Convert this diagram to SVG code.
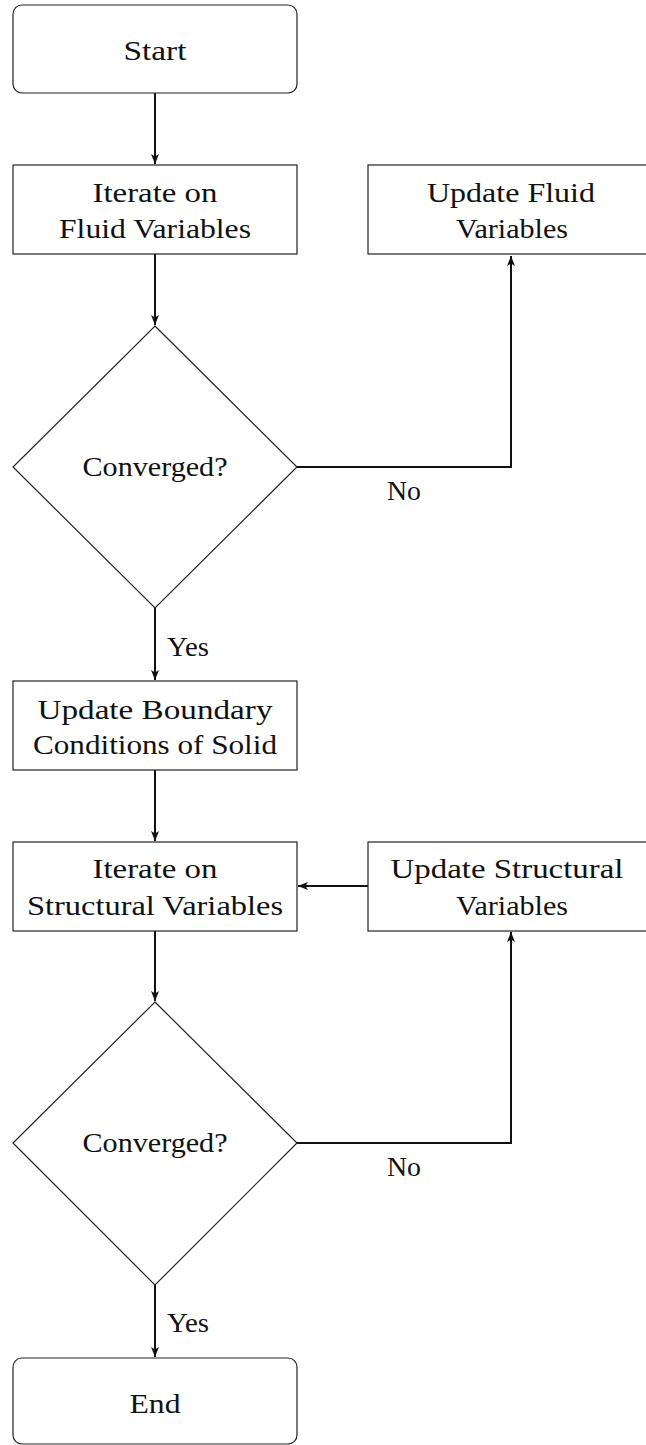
<svg xmlns="http://www.w3.org/2000/svg" width="646" height="1445" viewBox="0 0 646 1445">
<defs>
<style>
.box{fill:#fff;stroke:#222;stroke-width:1.2}
.t{font-family:"Liberation Serif","Times New Roman",serif;font-size:28px;fill:#111;text-anchor:middle}
.c{fill:none;stroke:#111;stroke-width:2}
</style>
<marker id="ah" viewBox="0 0 10 8" refX="10" refY="4" markerWidth="10" markerHeight="8" markerUnits="userSpaceOnUse" orient="auto">
<path d="M0,0 L10,4 L0,8 L2.5,4 Z" fill="#111"/>
</marker>
</defs>
<rect width="646" height="1445" fill="#fff"/>
<g id="connectors">
<line class="c" x1="155" y1="93" x2="155" y2="164" marker-end="url(#ah)"/>
<line class="c" x1="155" y1="254" x2="155" y2="325" marker-end="url(#ah)"/>
<polyline class="c" points="297,467 511,467 511,256" marker-end="url(#ah)"/>
<line class="c" x1="155" y1="608" x2="155" y2="680" marker-end="url(#ah)"/>
<line class="c" x1="155" y1="770" x2="155" y2="841" marker-end="url(#ah)"/>
<line class="c" x1="368" y1="886" x2="298" y2="886" marker-end="url(#ah)"/>
<line class="c" x1="155" y1="931" x2="155" y2="1001" marker-end="url(#ah)"/>
<polyline class="c" points="297,1143 511,1143 511,932" marker-end="url(#ah)"/>
<line class="c" x1="155" y1="1285" x2="155" y2="1357" marker-end="url(#ah)"/>
<text class="t" x="404" y="500" textLength="34" lengthAdjust="spacingAndGlyphs">No</text>
<text class="t" x="188" y="656" textLength="42" lengthAdjust="spacingAndGlyphs">Yes</text>
<text class="t" x="404" y="1176" textLength="34" lengthAdjust="spacingAndGlyphs">No</text>
<text class="t" x="188" y="1332" textLength="42" lengthAdjust="spacingAndGlyphs">Yes</text>
</g>
<g id="start">
<rect class="box" x="13" y="5" width="284" height="88" rx="9"/>
<text class="t" x="155" y="60" textLength="63" lengthAdjust="spacingAndGlyphs">Start</text>
</g>
<g id="iterate-fluid">
<rect class="box" x="13" y="165" width="284" height="89"/>
<text class="t" x="155" y="202" textLength="125" lengthAdjust="spacingAndGlyphs">Iterate on</text>
<text class="t" x="155" y="238" textLength="192" lengthAdjust="spacingAndGlyphs">Fluid Variables</text>
</g>
<g id="update-fluid">
<rect class="box" x="368" y="165" width="290" height="89"/>
<text class="t" x="511" y="202" textLength="168" lengthAdjust="spacingAndGlyphs">Update Fluid</text>
<text class="t" x="512" y="238" textLength="112" lengthAdjust="spacingAndGlyphs">Variables</text>
</g>
<g id="converged-fluid">
<polygon class="box" points="155,326 297,467 155,608 13,467"/>
<text class="t" x="155" y="476" textLength="145" lengthAdjust="spacingAndGlyphs">Converged?</text>
</g>
<g id="update-boundary">
<rect class="box" x="13" y="681" width="284" height="89"/>
<text class="t" x="155" y="719" textLength="235" lengthAdjust="spacingAndGlyphs">Update Boundary</text>
<text class="t" x="155" y="754" textLength="244" lengthAdjust="spacingAndGlyphs">Conditions of Solid</text>
</g>
<g id="iterate-structural">
<rect class="box" x="13" y="842" width="284" height="89"/>
<text class="t" x="155" y="878" textLength="125" lengthAdjust="spacingAndGlyphs">Iterate on</text>
<text class="t" x="155" y="915" textLength="256" lengthAdjust="spacingAndGlyphs">Structural Variables</text>
</g>
<g id="update-structural">
<rect class="box" x="368" y="842" width="290" height="89"/>
<text class="t" x="507" y="878" textLength="233" lengthAdjust="spacingAndGlyphs">Update Structural</text>
<text class="t" x="512" y="915" textLength="112" lengthAdjust="spacingAndGlyphs">Variables</text>
</g>
<g id="converged-structural">
<polygon class="box" points="155,1002 297,1143 155,1285 13,1143"/>
<text class="t" x="155" y="1152" textLength="145" lengthAdjust="spacingAndGlyphs">Converged?</text>
</g>
<g id="end">
<rect class="box" x="13" y="1358" width="284" height="86" rx="9"/>
<text class="t" x="155" y="1413" textLength="51" lengthAdjust="spacingAndGlyphs">End</text>
</g>
</svg>
